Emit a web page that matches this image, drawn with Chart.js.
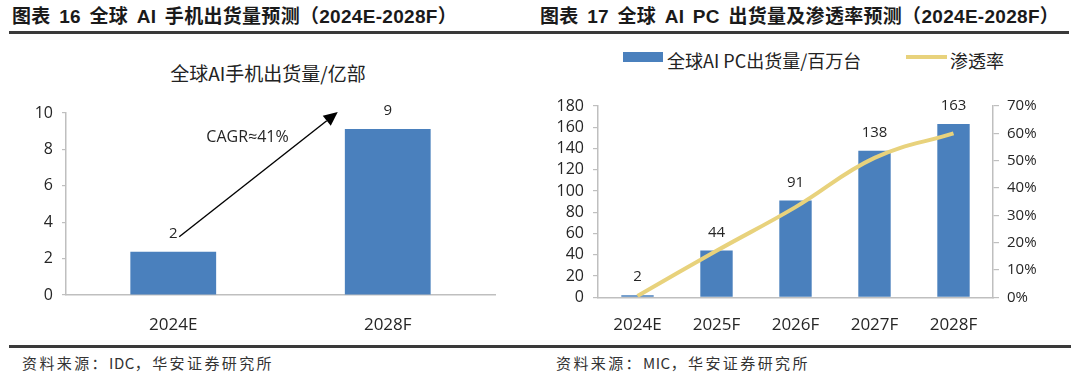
<!DOCTYPE html>
<html>
<head>
<meta charset="utf-8">
<script src="https://cdn.jsdelivr.net/npm/chart.js@4/dist/chart.umd.min.js"></script>
<style>
  html, body { margin:0; padding:0; background:#fff; }
  body { width:1080px; height:383px; position:relative; overflow:hidden; }
  .t { position:absolute; top:6px; font-family:"Liberation Sans","Noto Sans CJK SC",sans-serif; font-weight:bold; font-size:19px; line-height:22px; color:#1a1a1a; white-space:nowrap; letter-spacing:0.3px; word-spacing:3px; }
  .rule { position:absolute; left:9px; width:1060px; height:3px; background:#3a3a3a; }
  .src { position:absolute; top:353px; font-family:"Noto Sans CJK SC",sans-serif; font-size:15px; line-height:20px; letter-spacing:2.4px; color:#333; white-space:nowrap; }
  .src span { letter-spacing:0.5px; }
  .ctitle { position:absolute; font-family:"Noto Sans CJK SC",sans-serif; font-size:19px; line-height:22px; color:#222; white-space:nowrap; transform:translateX(-50%); }
  .leg { position:absolute; font-family:"Noto Sans CJK SC",sans-serif; font-size:18px; line-height:20px; color:#222; white-space:nowrap; }
  canvas { position:absolute; }
</style>
</head>
<body>
<div class="t" style="left:12px">图表 16 全球 AI 手机出货量预测（2024E-2028F）</div>
<div class="t" style="left:540px">图表 17 全球 AI PC 出货量及渗透率预测（2024E-2028F）</div>
<div class="rule" style="top:31px"></div>
<div class="rule" style="top:345px;left:9px;width:1062px;height:2.5px;"></div>
<div class="src" style="left:22px">资料来源：<span>IDC</span>，华安证券研究所</div>
<div class="src" style="left:556px">资料来源：<span>MIC</span>，华安证券研究所</div>

<div class="ctitle" style="left:268px;top:62px">全球AI手机出货量/亿部</div>

<div style="position:absolute;left:623px;top:52px;width:40px;height:10px;background:#4A80BD"></div>
<div class="leg" style="left:667px;top:50px">全球AI PC出货量/百万台</div>
<div style="position:absolute;left:906px;top:55px;width:41px;height:4px;background:#E8D27C"></div>
<div class="leg" style="left:950px;top:50px">渗透率</div>

<canvas id="c1" width="540" height="295" style="left:0;top:40px"></canvas>
<canvas id="c2" width="540" height="295" style="left:540px;top:40px"></canvas>

<script>
// ---------- data ----------
const phoneCategories = ['2024E', '2028F'];
const phoneShipments = [2.38, 9.12];          // 亿部
const pcCategories = ['2024E', '2025F', '2026F', '2027F', '2028F'];
const pcShipments = [2, 44, 91, 138, 163];    // 百万台
const pcPenetration = [0.5, 17, 33, 51, 60];  // %
const phoneAxisMax = 10, phoneAxisStep = 2;
const pcAxisMax = 180, pcAxisStep = 20;
const penAxisMax = 70, penAxisStep = 10;

// ---------- styles ----------
const BLUE = '#4A80BD';
const YELLOW = '#E8D27C';
const AXIS = '#BFBFBF';
const TXT = '#262626';
const NUMFONT = '"Open Sans", "Noto Sans", sans-serif';

const barLabels = {
  id: 'barLabels',
  afterDatasetsDraw(chart) {
    const meta = chart.getDatasetMeta(0);
    const vals = chart.data.datasets[0].data;
    const c = chart.ctx;
    c.save();
    c.font = '15px ' + NUMFONT;
    c.fillStyle = TXT;
    c.textAlign = 'center';
    c.textBaseline = 'middle';
    meta.data.forEach((bar, i) => {
      c.fillText(String(Math.round(vals[i])), bar.x, bar.y - 18);
    });
    c.restore();
  }
};

const cagrArrow = {
  id: 'cagrArrow',
  afterDatasetsDraw(chart) {
    const xs = chart.scales.x, ys = chart.scales.y, c = chart.ctx;
    const x0 = xs.getPixelForValue(0) + 6, y0 = ys.getPixelForValue(3.2);
    const x1 = xs.getPixelForValue(1) - 50, y1 = ys.getPixelForValue(10.05);
    const ang = Math.atan2(y1 - y0, x1 - x0);
    const L = 14, W = 6.5;
    const bx = x1 - L * Math.cos(ang), by = y1 - L * Math.sin(ang);
    c.save();
    c.strokeStyle = '#000';
    c.lineWidth = 1.4;
    c.beginPath(); c.moveTo(x0, y0); c.lineTo(bx, by); c.stroke();
    c.fillStyle = '#000';
    c.beginPath();
    c.moveTo(x1, y1);
    c.lineTo(bx + W * Math.sin(ang), by - W * Math.cos(ang));
    c.lineTo(bx - W * Math.sin(ang), by + W * Math.cos(ang));
    c.closePath(); c.fill();
    const mid = (xs.getPixelForValue(0) + xs.getPixelForValue(1)) / 2;
    c.font = '16px ' + NUMFONT;
    c.fillStyle = TXT;
    c.textAlign = 'center';
    c.textBaseline = 'middle';
    c.fillText('CAGR≈41%', mid - 33, ys.getPixelForValue(8.68));
    c.restore();
  }
};

// ---------- chart 16 ----------
new Chart(document.getElementById('c1'), {
  type: 'bar',
  data: {
    labels: phoneCategories,
    datasets: [{ data: phoneShipments, backgroundColor: BLUE, categoryPercentage: 1, barPercentage: 0.40 }]
  },
  options: {
    responsive: false, animation: false, devicePixelRatio: 1,
    layout: { padding: { left: 0, right: 45, top: 73, bottom: 0 } },
    plugins: { legend: { display: false }, tooltip: { enabled: false } },
    scales: {
      x: {
        grid: { display: false },
        border: { display: true, color: AXIS, width: 1.5 },
        ticks: { color: TXT, font: { family: NUMFONT, size: 17 }, padding: 12 },
        afterFit: s => { s.height = 40; }
      },
      y: {
        min: 0, max: phoneAxisMax,
        ticks: { stepSize: phoneAxisStep, autoSkip: false, color: TXT, font: { family: NUMFONT, size: 16 }, padding: 9 },
        grid: { drawOnChartArea: false, drawTicks: true, tickLength: 4, color: AXIS, lineWidth: 1.2 },
        border: { display: true, color: AXIS, width: 1.5 },
        afterFit: s => { s.width = 66; }
      }
    }
  },
  plugins: [barLabels, cagrArrow]
});

// ---------- chart 17 ----------
new Chart(document.getElementById('c2'), {
  data: {
    labels: pcCategories,
    datasets: [
      { type: 'bar', data: pcShipments, backgroundColor: BLUE, categoryPercentage: 1, barPercentage: 0.41, yAxisID: 'y', order: 2 },
      { type: 'line', data: pcPenetration, borderColor: YELLOW, borderWidth: 4, pointRadius: 0, tension: 0.4, fill: false, yAxisID: 'y2', order: 1 }
    ]
  },
  options: {
    responsive: false, animation: false, devicePixelRatio: 1,
    layout: { padding: { left: 0, right: 0, top: 66, bottom: 0 } },
    plugins: { legend: { display: false }, tooltip: { enabled: false } },
    scales: {
      x: {
        grid: { display: false },
        border: { display: true, color: AXIS, width: 1.5 },
        ticks: { color: TXT, font: { family: NUMFONT, size: 17 }, padding: 10 },
        afterFit: s => { s.height = 37.7; }
      },
      y: {
        position: 'left', min: 0, max: pcAxisMax,
        ticks: { stepSize: pcAxisStep, autoSkip: false, color: TXT, font: { family: NUMFONT, size: 16 }, padding: 9 },
        grid: { drawOnChartArea: false, drawTicks: true, tickLength: 5, color: AXIS, lineWidth: 1.2 },
        border: { display: true, color: AXIS, width: 1.5 },
        afterFit: s => { s.width = 58; }
      },
      y2: {
        position: 'right', min: 0, max: penAxisMax,
        ticks: { stepSize: penAxisStep, autoSkip: false, color: TXT, font: { family: NUMFONT, size: 15 }, padding: 8, callback: v => v + '%' },
        grid: { drawOnChartArea: false, drawTicks: true, tickLength: 6, color: AXIS, lineWidth: 1.2 },
        border: { display: true, color: AXIS, width: 1.5 },
        afterFit: s => { s.width = 87; }
      }
    }
  },
  plugins: [barLabels]
});
</script>
</body>
</html>
